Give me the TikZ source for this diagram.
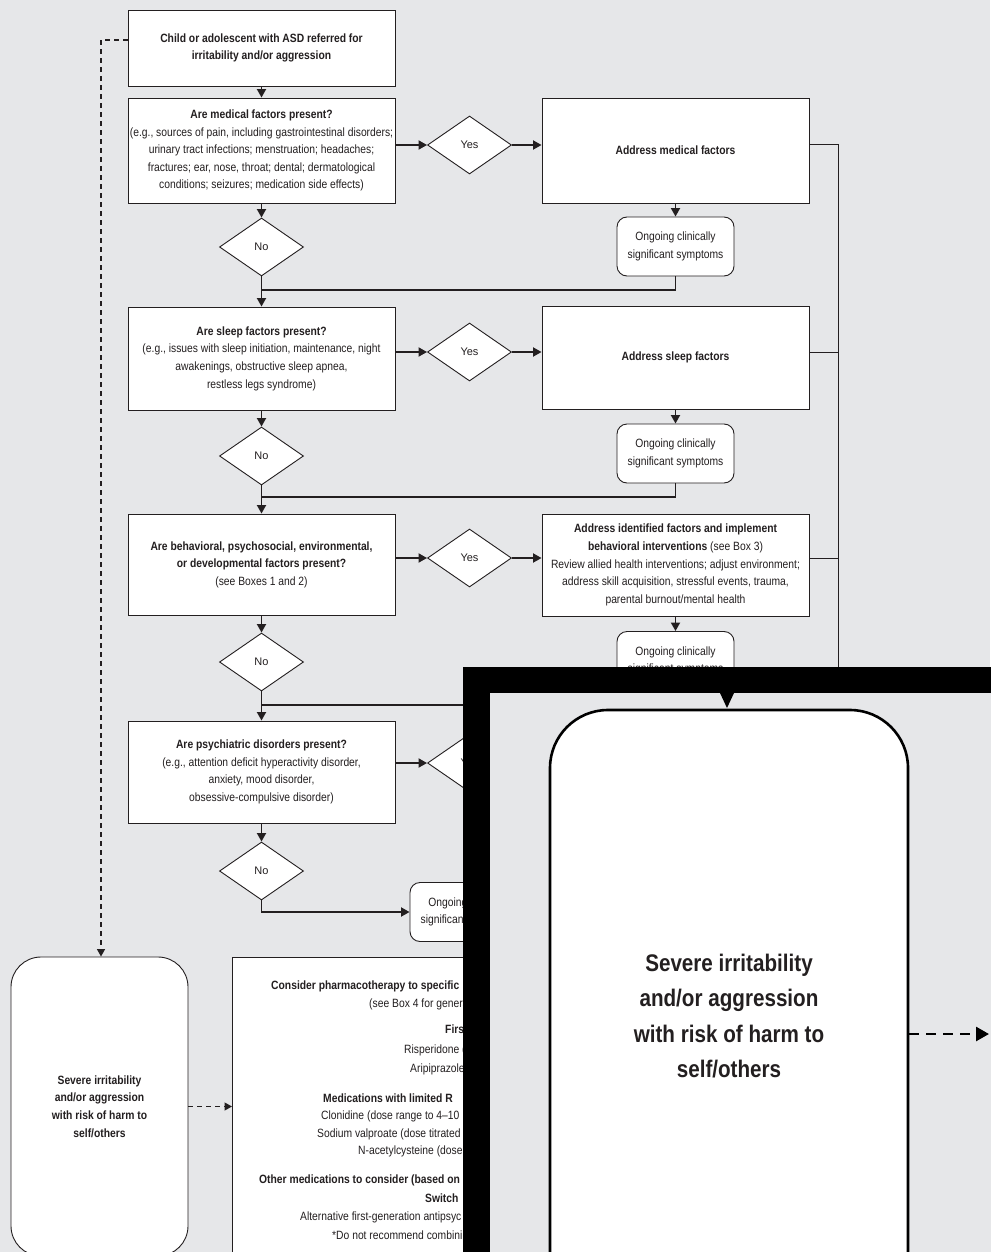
\documentclass[tikz,border=0pt]{standalone}
\usepackage{fontspec}
\setmainfont{Liberation Sans}[FakeStretch=0.86]
\newfontfamily\plainfont{Liberation Sans}
\usetikzlibrary{shapes.geometric,arrows.meta}
\definecolor{bgray}{RGB}{230,231,233}
\definecolor{ink}{RGB}{35,31,32}
\newcommand{\bodysize}{\fontsize{12}{17.6}\selectfont}
\tikzset{
  box/.style={draw=ink, fill=white, line width=0.9pt, align=center, inner sep=0pt, text=ink, font=\bodysize},
  qbox/.style={box, minimum width=267, minimum height=103},
  abox/.style={box, minimum width=267, minimum height=104},
  choice/.style={diamond, draw=ink, fill=white, line width=0.9pt, minimum width=84, minimum height=58, aspect=1.45, inner sep=0pt, text=ink, font=\plainfont\fontsize{11}{13}\selectfont},
  ongoing/.style={box, rounded corners=10, minimum width=117, minimum height=59},
  strong/.style={inner sep=0pt, text=ink, font=\bfseries\bodysize},
  txt/.style={inner sep=0pt, text=ink, font=\bodysize},
  flow/.style={draw=ink, line width=1.8pt, -{Triangle[length=8.5pt,width=9pt]}},
  link/.style={draw=ink, line width=1.8pt},
  side/.style={draw=ink, line width=1pt},
  dashflow/.style={draw=ink, line width=1.3pt, dash pattern=on 5pt off 4pt, -{Triangle[length=7.5pt,width=8pt]}}
}
\begin{document}
\begin{tikzpicture}[x=1pt,y=-1pt]
\fill[bgray] (0,0) rectangle (990,1252);
\useasboundingbox (0,0) rectangle (990,1252);

\node[box, font=\bfseries\bodysize, minimum width=267, minimum height=76] (start) at (261.5,48) {Child or adolescent with ASD referred for\\irritability and/or aggression};

\node[qbox, minimum height=105] (med) at (261.5,150.5) {\textbf{Are medical factors present?}\\(e.g., sources of pain, including gastrointestinal disorders;\\urinary tract infections; menstruation; headaches;\\fractures; ear, nose, throat; dental; dermatological\\conditions; seizures; medication side effects)};
\node[choice] (medyes) at (469.5,145) {Yes};
\node[abox, font=\bfseries\bodysize, minimum height=105] (medaddr) at (675.5,150.5) {Address medical factors};
\node[ongoing] (medongo) at (675.5,246.5) {Ongoing clinically\\significant symptoms};
\node[choice] (medno) at (261.5,247) {No};
\coordinate (medjoin) at (261.5,290);

\node[qbox] (slp) at (261.5,358.5) {\textbf{Are sleep factors present?}\\(e.g., issues with sleep initiation, maintenance, night\\awakenings, obstructive sleep apnea,\\restless legs syndrome)};
\node[choice] (slpyes) at (469.5,352) {Yes};
\node[abox, font=\bfseries\bodysize, minimum height=103] (slpaddr) at (675.5,357.5) {Address sleep factors};
\node[ongoing] (slpongo) at (675.5,453.5) {Ongoing clinically\\significant symptoms};
\node[choice] (slpno) at (261.5,456) {No};
\coordinate (slpjoin) at (261.5,497);

\node[qbox, minimum height=101] (beh) at (261.5,564.5) {\textbf{Are behavioral, psychosocial, environmental,}\\\textbf{or developmental factors present?}\\(see Boxes 1 and 2)};
\node[choice] (behyes) at (469.5,558) {Yes};
\node[abox, minimum height=102] (behaddr) at (675.5,565) {\textbf{Address identified factors and implement}\\\textbf{behavioral interventions} (see Box 3)\\Review allied health interventions; adjust environment;\\address skill acquisition, stressful events, trauma,\\parental burnout/mental health};
\node[ongoing] (behongo) at (675.5,661) {Ongoing clinically\\significant symptoms};
\node[choice] (behno) at (261.5,662) {No};
\coordinate (behjoin) at (261.5,705);

\node[qbox, minimum height=102] (psy) at (261.5,772) {\textbf{Are psychiatric disorders present?}\\(e.g., attention deficit hyperactivity disorder,\\anxiety, mood disorder,\\obsessive-compulsive disorder)};
\node[choice] (psyyes) at (469.5,763) {Yes};
\node[choice] (psyno) at (261.5,871) {No};
\node[ongoing] (psyongo) at (468.5,912) {Ongoing clinically\\significant symptoms};

\coordinate (rail) at (838,145);
\coordinate (railend) at (838,700);

\draw[flow] (start) -- (med);
\draw[flow] (med.east |- medyes) -- (medyes);
\draw[flow] (medyes) -- (medaddr.west |- medyes);
\draw[flow] (medaddr) -- (medongo);
\draw[flow] (med) -- (medno);
\draw[link] (medongo.south) |- (medjoin);
\draw[flow] (medno.south) -- (slp.north);

\draw[flow] (slp.east |- slpyes) -- (slpyes);
\draw[flow] (slpyes) -- (slpaddr.west |- slpyes);
\draw[flow] (slpaddr) -- (slpongo);
\draw[flow] (slp) -- (slpno);
\draw[link] (slpongo.south) |- (slpjoin);
\draw[flow] (slpno.south) -- (beh.north);

\draw[flow] (beh.east |- behyes) -- (behyes);
\draw[flow] (behyes) -- (behaddr.west |- behyes);
\draw[flow] (behaddr) -- (behongo);
\draw[flow] (beh) -- (behno);
\draw[link] (behongo.south) |- (behjoin);
\draw[flow] (behno.south) -- (psy.north);

\draw[flow] (psy.east |- psyyes) -- (psyyes);
\draw[flow] (psy) -- (psyno);
\draw[flow] (psyno.south) |- (psyongo.west);

\draw[side] (medaddr.east |- medyes) -- (rail) -- (railend);
\draw[side] (slpaddr.east |- slpyes) -- (slpyes -| rail);
\draw[side] (behaddr.east |- behyes) -- (behyes -| rail);

\node[box, font=\bfseries\bodysize, rounded corners=30, minimum width=177, minimum height=299] (severe) at (99.5,1106.5) {Severe irritability\\and/or aggression\\with risk of harm to\\self/others};
\node[box, minimum width=480, minimum height=310, anchor=north west] (pharma) at (232,957) {};
\node[strong, anchor=west] (ph1) at (271,986) {Consider pharmacotherapy to specific};
\node[txt, anchor=west] (ph2) at (369,1004) {(see Box 4 for genera};
\node[strong, anchor=west] (ph3) at (445,1029) {Firs};
\node[txt, anchor=west] (ph4) at (404,1050) {Risperidone (};
\node[txt, anchor=west] (ph5) at (410,1069) {Aripiprazole};
\node[strong, anchor=west] (ph6) at (323,1098) {Medications with limited R};
\node[txt, anchor=west] (ph7) at (321,1116) {Clonidine (dose range to 4--10};
\node[txt, anchor=west] (ph8) at (317,1134) {Sodium valproate (dose titrated};
\node[txt, anchor=west] (ph9) at (358,1151) {N-acetylcysteine (dose};
\node[strong, anchor=west] (ph10) at (259,1180) {Other medications to consider (based on};
\node[strong, anchor=west] (ph11) at (425,1198) {Switch};
\node[txt, anchor=west] (ph12) at (300,1217) {Alternative first-generation antipsyc};
\node[txt, anchor=west] (ph13) at (332,1235) {*Do not recommend combini};

\coordinate (dashtop) at (101,40);
\draw[dashflow] (start.west |- dashtop) -- (dashtop) -- (dashtop |- severe.north);
\draw[dashflow] (severe.east) -- (pharma.west |- severe.east);

\fill[black] (463,667) rectangle (995,1257);
\fill[bgray] (490,693) rectangle (995,1257);
\node[draw=black, line width=2.6pt, fill=white, rounded corners=58, minimum width=358, minimum height=612, align=center, text=ink, font=\bfseries\fontsize{24}{35.4}\selectfont] (bigsevere) at (729,1016) {Severe irritability\\and/or aggression\\with risk of harm to\\self/others};
\fill[black] (720,693) -- (734,693) -- (727,708) -- cycle;
\coordinate (bigtip) at (989,1034);
\draw[line width=2.6pt, dash pattern=on 10pt off 7pt, -{Triangle[length=13pt,width=14pt]}] (bigtip -| bigsevere.east) -- (bigtip);
\end{tikzpicture}
\end{document}
